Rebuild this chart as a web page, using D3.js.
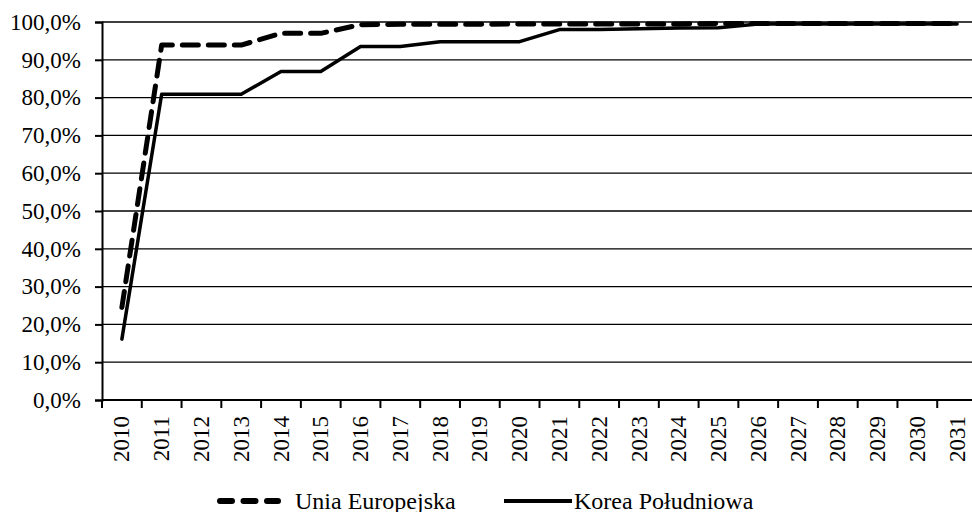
<!DOCTYPE html>
<html>
<head>
<meta charset="utf-8">
<script src="https://cdn.jsdelivr.net/npm/d3@7"></script>
<style>
  body { margin: 0; background: #fff; }
</style>
</head>
<body>
<div id="chart"></div>
<script>
// chart data
const YEARS = ["2010", "2011", "2012", "2013", "2014", "2015", "2016", "2017", "2018", "2019", "2020",
               "2021", "2022", "2023", "2024", "2025", "2026", "2027", "2028", "2029", "2030", "2031"];
const EU_VALUES = [24.5, 93.9, 93.9, 93.9, 97.0, 97.0, 99.3, 99.4, 99.4, 99.4, 99.5,
                   99.5, 99.5, 99.5, 99.5, 99.6, 99.6, 99.6, 99.6, 99.6, 99.6, 99.6];
const KOREA_VALUES = [16.1, 80.9, 80.9, 80.9, 86.9, 86.9, 93.5, 93.5, 94.8, 94.8, 94.8,
                      98.0, 98.0, 98.2, 98.4, 98.5, 99.5, 99.5, 99.5, 99.5, 99.5, 99.5];
const Y_TICKS = [0, 10, 20, 30, 40, 50, 60, 70, 80, 90, 100];
const SERIES_NAMES = ["Unia Europejska", "Korea Południowa"];

// frame
const FRAME_WIDTH = 972;
const FRAME_HEIGHT = 512;
const MARGINS = {left: 102, right: -5, top: 22, bottom: 112};
const VIS_WIDTH = FRAME_WIDTH - MARGINS.left - MARGINS.right;
const VIS_HEIGHT = FRAME_HEIGHT - MARGINS.top - MARGINS.bottom;
const FONT = "'Liberation Serif', 'Times New Roman', serif";
const FONT_SIZE = "23px";

const FRAME = d3.select("#chart")
  .append("svg")
    .attr("width", FRAME_WIDTH)
    .attr("height", FRAME_HEIGHT);

// clip the series at the top of the plot (100% line)
FRAME.append("defs").append("clipPath")
    .attr("id", "plot-clip")
  .append("rect")
    .attr("x", -10)
    .attr("y", -1)
    .attr("width", VIS_WIDTH + 20)
    .attr("height", VIS_HEIGHT + 1);

const X_SCALE = d3.scaleBand()
  .domain(YEARS)
  .range([0, VIS_WIDTH]);

const Y_SCALE = d3.scaleLinear()
  .domain([0, 100])
  .range([VIS_HEIGHT, 0]);

const fmt = (v) => v.toFixed(1).replace(".", ",") + "%";

const G = FRAME.append("g")
  .attr("transform", "translate(" + MARGINS.left + "," + MARGINS.top + ")");

// gridlines
G.selectAll(".grid")
  .data(Y_TICKS.filter((d) => d > 0))
  .enter()
  .append("line")
    .attr("x1", 0)
    .attr("x2", VIS_WIDTH)
    .attr("y1", (d) => Y_SCALE(d))
    .attr("y2", (d) => Y_SCALE(d))
    .attr("stroke", "#000")
    .attr("stroke-width", 1.3);

// y axis
const yAxis = G.append("g")
  .call(d3.axisLeft(Y_SCALE).tickValues(Y_TICKS).tickFormat(fmt).tickSize(7).tickPadding(14));
yAxis.select(".domain").attr("stroke-width", 2);
yAxis.selectAll(".tick line").attr("stroke-width", 2);
yAxis.selectAll("text")
  .style("font-family", FONT)
  .style("font-size", FONT_SIZE)
  .attr("fill", "#000");

// x axis (ticks on band boundaries)
const xAxisG = G.append("g")
  .attr("transform", "translate(0," + VIS_HEIGHT + ")");
xAxisG.append("line")
  .attr("x1", 0).attr("x2", VIS_WIDTH)
  .attr("stroke", "#000").attr("stroke-width", 2);
xAxisG.selectAll(".xtick")
  .data(YEARS.concat(["end"]))
  .enter()
  .append("line")
    .attr("x1", (d, i) => i * X_SCALE.step())
    .attr("x2", (d, i) => i * X_SCALE.step())
    .attr("y1", 0)
    .attr("y2", 8)
    .attr("stroke", "#000")
    .attr("stroke-width", 2);
xAxisG.selectAll(".xlabel")
  .data(YEARS)
  .enter()
  .append("text")
    .attr("transform", (d) => "translate(" + (X_SCALE(d) + X_SCALE.bandwidth() / 2) + ",16) rotate(-90)")
    .attr("text-anchor", "end")
    .attr("dy", "0.33em")
    .style("font-family", FONT)
    .style("font-size", FONT_SIZE)
    .text((d) => d);

// lines
const line = (vals) => d3.line()
  .x((d, i) => X_SCALE(YEARS[i]) + X_SCALE.bandwidth() / 2)
  .y((d) => Y_SCALE(d))(vals);

const SERIES_G = G.append("g").attr("clip-path", "url(#plot-clip)");

SERIES_G.append("path")
  .attr("d", line(KOREA_VALUES))
  .attr("fill", "none")
  .attr("stroke", "#000")
  .attr("stroke-width", 3.5)
  .attr("stroke-linejoin", "round")
  .attr("stroke-linecap", "round");

SERIES_G.append("path")
  .attr("d", line(EU_VALUES))
  .attr("fill", "none")
  .attr("stroke", "#000")
  .attr("stroke-width", 5)
  .attr("stroke-dasharray", "16,10")
  .attr("stroke-linecap", "round")
  .attr("stroke-linejoin", "round");

// legend
const LEGEND = FRAME.append("g").attr("transform", "translate(0,501)");
const legendItems = [
  {name: SERIES_NAMES[0], x1: 220, x2: 278, textX: 295, dash: "12,11.5", w: 6, cap: "round"},
  {name: SERIES_NAMES[1], x1: 504, x2: 572, textX: 574, dash: null, w: 4, cap: "butt"}
];
legendItems.forEach((it) => {
  LEGEND.append("line")
    .attr("x1", it.x1).attr("x2", it.x2)
    .attr("stroke", "#000")
    .attr("stroke-width", it.w)
    .attr("stroke-linecap", it.cap)
    .attr("stroke-dasharray", it.dash);
  LEGEND.append("text")
    .attr("x", it.textX)
    .attr("y", 7.5)
    .style("font-family", FONT)
    .style("font-size", "24px")
    .text(it.name);
});
</script>
</body>
</html>
